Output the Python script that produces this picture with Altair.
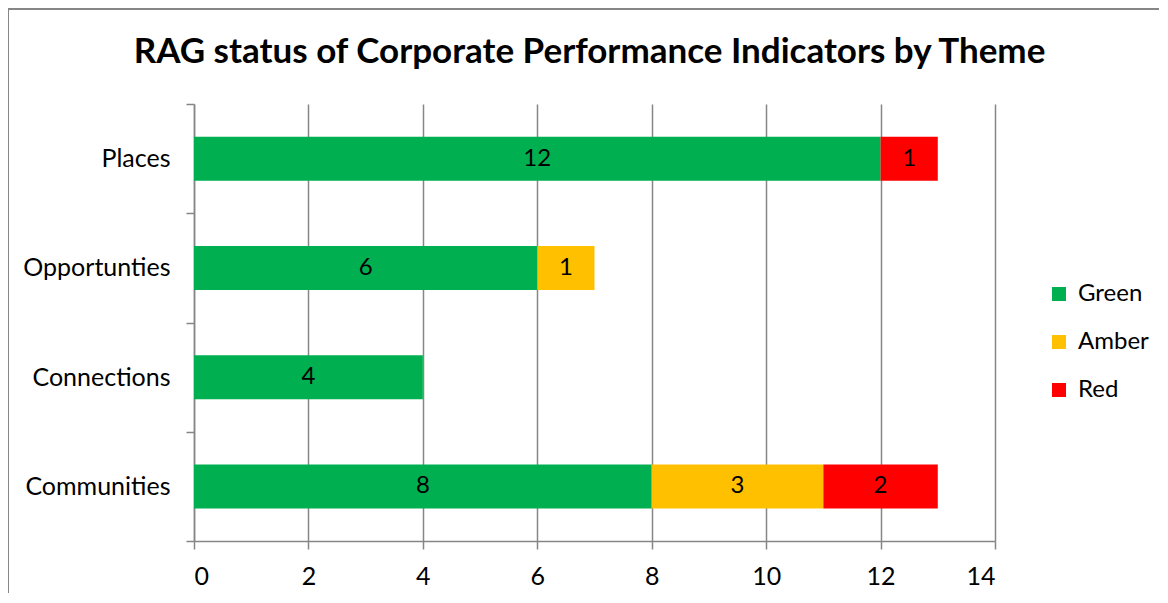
import altair as alt
import pandas as pd

themes = ["Places", "Opportunties", "Connections", "Communities"]
statuses = ["Green", "Amber", "Red"]
green = [12, 6, 4, 8]
amber = [0, 1, 0, 3]
red = [1, 0, 0, 2]
colors = ["#00B050", "#FFC000", "#FF0000"]
x_ticks = [0, 2, 4, 6, 8, 10, 12, 14]

rows = []
for i, t in enumerate(themes):
    for j, (s, vals) in enumerate(zip(statuses, [green, amber, red])):
        if vals[i] > 0:
            rows.append({"theme": t, "status": s, "value": vals[i], "ord": j})
df = pd.DataFrame(rows)

FONT = "Lato"
GRAY = "#868686"

base = alt.Chart(df)

y_enc = alt.Y("theme:N", sort=themes,
              scale=alt.Scale(paddingInner=0, paddingOuter=0),
              axis=alt.Axis(title=None, tickBand="extent", grid=False, domainColor=GRAY,
                            tickColor=GRAY, tickSize=8, labelFontSize=25, labelFont=FONT,
                            labelColor="black", labelPadding=16))

bars = base.mark_bar(height=44).encode(
    y=y_enc,
    x=alt.X("value:Q", stack="zero",
            scale=alt.Scale(domain=[0, 14], nice=False),
            axis=alt.Axis(title=None, values=x_ticks, format="d", grid=True, gridColor=GRAY,
                          domainColor=GRAY, tickColor=GRAY, tickSize=8,
                          labelFontSize=25, labelFont=FONT, labelColor="black",
                          labelPadding=15)),
    color=alt.Color("status:N", sort=statuses,
                    scale=alt.Scale(domain=statuses, range=colors),
                    legend=alt.Legend(title=None, orient="none", legendX=853, legendY=178,
                                      symbolType="square", symbolSize=196,
                                      symbolStrokeWidth=0, labelFontSize=24, labelFont=FONT,
                                      labelColor="black", rowPadding=24, labelOffset=7)),
    order=alt.Order("ord:Q"),
)

labels = base.transform_window(
    cum="sum(value)", groupby=["theme"], sort=[alt.SortField("ord")], frame=[None, 0]
).transform_calculate(
    mid="datum.cum - datum.value / 2"
).mark_text(font=FONT, fontSize=24, color="black", baseline="middle").encode(
    y=alt.Y("theme:N", sort=themes),
    x=alt.X("mid:Q"),
    text=alt.Text("value:Q"),
)

border = alt.Chart(alt.Data(values=[{}])).mark_rect(
    fill=None, stroke=GRAY, strokeWidth=2, fillOpacity=0
).encode(
    x=alt.value(-186), x2=alt.value(1100), y=alt.value(-95), y2=alt.value(600)
)

chart = alt.layer(border, bars, labels).properties(
    width=801, height=437,
    autosize=alt.AutoSizeParams(type="none"),
    padding={"left": 186, "top": 96, "right": 164, "bottom": 52},
    title=alt.TitleParams("RAG status of Corporate Performance Indicators by Theme",
                          font=FONT, fontSize=35, fontWeight="bold", color="black",
                          anchor="middle", dx=-5, offset=-90, baseline="alphabetic"),
).configure_view(stroke=None).configure_axisX(
    domainWidth=1.5, gridWidth=1.5, tickWidth=1.5
).configure_axisY(domainWidth=1.5, tickWidth=1.5)

chart.save("out.html", embed_options={"renderer": "svg", "actions": False})
